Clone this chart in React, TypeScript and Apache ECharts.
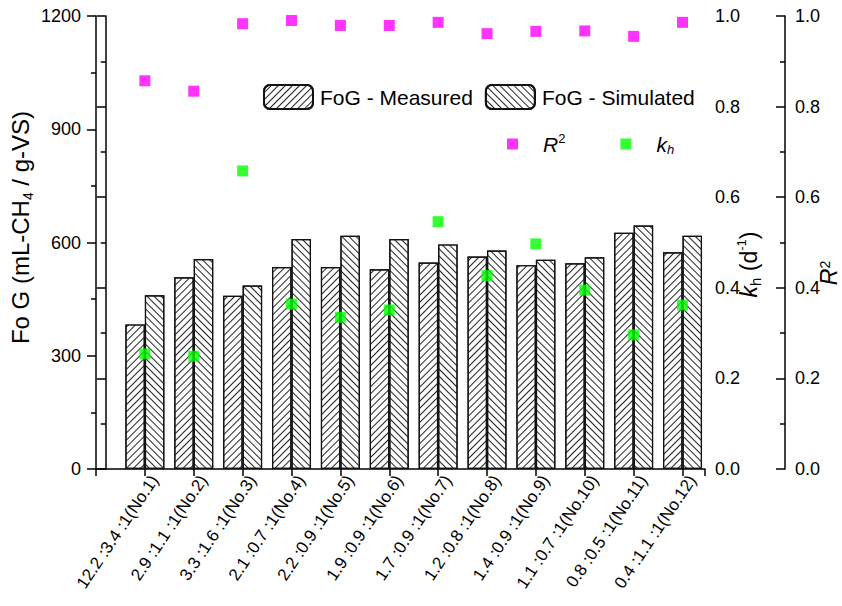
import React, { useEffect, useRef } from "react";
import * as echarts from "echarts";

const categories = [
  "12.2 :3.4 :1(No.1)",
  "2.9 :1.1 :1(No.2)",
  "3.3 :1.6 :1(No.3)",
  "2.1 :0.7 :1(No.4)",
  "2.2 :0.9 :1(No.5)",
  "1.9 :0.9 :1(No.6)",
  "1.7 :0.9 :1(No.7)",
  "1.2 :0.8 :1(No.8)",
  "1.4 :0.9 :1(No.9)",
  "1.1 :0.7 :1(No.10)",
  "0.8 :0.5 :1(No.11)",
  "0.4 :1.1 :1(No.12)",
];
const measured = [383, 508, 459, 535, 535, 529, 547, 563, 540, 545, 626, 574];
const simulated = [460, 556, 486, 609, 618, 609, 595, 579, 554, 561, 645, 618];
const kh = [0.254, 0.249, 0.658, 0.364, 0.335, 0.351, 0.546, 0.427, 0.497, 0.395, 0.296, 0.362];
const r2 = [0.857, 0.834, 0.983, 0.99, 0.979, 0.979, 0.986, 0.961, 0.966, 0.967, 0.955, 0.986];
const leftTicks = { min: 0, max: 1200, interval: 300 };
const rightTicks = { min: 0, max: 1, interval: 0.2 };

const FONT = "Liberation Sans, Arial, sans-serif";

export default function App() {
  const ref = useRef<HTMLDivElement>(null);
  useEffect(() => {
    if (!ref.current) return;
    const chart = echarts.init(ref.current, undefined, { renderer: "svg" });
    const pos = (i: number) => i + 1;
    const positions = categories.map((_, i) => pos(i));
    const X_MAX = 12.46;
    const LABEL_SHIFT = 0.2;
    const decalBase = {
      symbol: "rect",
      color: "#222",
      backgroundColor: "#fff",
      dashArrayX: [1, 0],
      dashArrayY: [1, 3.4],
      symbolSize: 1,
    };
    const tickStyle = { color: "#000", width: 1.5 };
    const axisCommon = {
      axisLine: { show: true, lineStyle: { color: "#000", width: 1.5 } },
      splitLine: { show: false },
      minorSplitLine: { show: false },
      nameMoveOverlap: false,
    };
    const option: any = {
      animation: false,
      backgroundColor: "#fff",
      textStyle: { fontFamily: FONT },
      grid: { left: 96, right: 137, top: 16, bottom: 137, outerBoundsMode: "none", containLabel: false },
      graphic: [
        {
          type: "text",
          x: 829,
          y: 273,
          rotation: Math.PI / 2,
          style: {
            text: "{i|R}{sup|2}",
            align: "center",
            verticalAlign: "middle",
            fill: "#000",
            rich: {
              i: { fontSize: 23, fontStyle: "italic", fontFamily: FONT, fill: "#000", lineHeight: 23 },
              sup: { fontSize: 14, fontFamily: FONT, fill: "#000", verticalAlign: "top", lineHeight: 23 },
            },
          },
        },
      ],
      legend: [
        {
          left: 258,
          top: 79,
          itemWidth: 49,
          itemHeight: 24,
          itemGap: 12,
          data: ["FoG - Measured", "FoG - Simulated"],
          textStyle: { fontSize: 21, color: "#000", fontFamily: FONT, padding: [0, 0, 0, 2] },
        },
        {
          left: 502,
          top: 127,
          itemWidth: 11,
          itemHeight: 11,
          itemGap: 55,
          data: ["R2", "kh"],
          formatter: (n: string) => (n === "R2" ? "{i|R}{sup|2}" : "{i|k}{sub|h}"),
          textStyle: {
            color: "#000",
            fontFamily: FONT,
            padding: [0, 0, 0, 20],
            rich: {
              i: { fontSize: 21, fontStyle: "italic", fontFamily: FONT, color: "#000", lineHeight: 24 },
              sup: { fontSize: 13, fontFamily: FONT, color: "#000", verticalAlign: "top", lineHeight: 24 },
              sub: { fontSize: 13, fontStyle: "italic", fontFamily: FONT, color: "#000", verticalAlign: "bottom", lineHeight: 24 },
            },
          },
        },
      ],
      xAxis: [
        {
          type: "value",
          min: 0,
          max: X_MAX,
          interval: 1,
          axisLine: { show: true, onZero: false, lineStyle: { color: "#000", width: 1.5 } },
          axisTick: { show: true, length: 7, lineStyle: tickStyle },
          splitLine: { show: false },
          axisLabel: { show: false },
        },
        {
          type: "value",
          position: "bottom",
          min: -LABEL_SHIFT,
          max: X_MAX - LABEL_SHIFT,
          axisLine: { show: false, onZero: false },
          axisTick: { show: false },
          splitLine: { show: false },
          axisLabel: {
            customValues: positions,
            rotate: 56,
            fontSize: 17,
            color: "#000",
            fontFamily: FONT,
            margin: 8,
            formatter: (v: number) => {
              const i = Math.round(v) - 1;
              return i >= 0 && i < categories.length ? categories[i] : "";
            },
          },
        },
      ],
      yAxis: [
        {
          type: "value",
          ...leftTicks,
          position: "left",
          ...axisCommon,
          axisTick: { show: true, length: 9, lineStyle: tickStyle },
          minorTick: { show: true, splitNumber: 2, length: 5, lineStyle: tickStyle },
          axisLabel: { fontSize: 18, color: "#000", fontFamily: FONT, margin: 15, formatter: (v: number) => String(v) },
          name: "Fo G (mL-CH{sub|4} / g-VS)",
          nameLocation: "middle",
          nameGap: 61,
          nameTextStyle: {
            fontSize: 24,
            color: "#000",
            fontFamily: FONT,
            padding: [0, 0, 0, 30],
            rich: {
              sub: { fontSize: 14, fontFamily: FONT, color: "#000", verticalAlign: "bottom", lineHeight: 30 },
            },
          },
        },
        {
          type: "value",
          ...rightTicks,
          position: "right",
          ...axisCommon,
          axisTick: { show: true, inside: true, length: 9, lineStyle: tickStyle },
          minorTick: { show: true, splitNumber: 2, length: 5, lineStyle: tickStyle },
          axisLabel: { fontSize: 18, color: "#000", fontFamily: FONT, margin: 10, formatter: (v: number) => v.toFixed(1) },
          name: "{i|k}{sub|h}{t| (d}{sup|-1}{t|)}",
          nameLocation: "middle",
          nameGap: 30,
          nameRotate: 90,
          nameTextStyle: {
            color: "#000",
            fontFamily: FONT,
            padding: [0, 44, 0, 0],
            rich: {
              i: { fontSize: 23, fontStyle: "italic", fontFamily: FONT, color: "#000", lineHeight: 28 },
              t: { fontSize: 23, fontFamily: FONT, color: "#000", lineHeight: 28 },
              sub: { fontSize: 15, fontFamily: FONT, color: "#000", verticalAlign: "bottom", lineHeight: 28 },
              sup: { fontSize: 13, fontFamily: FONT, color: "#000", verticalAlign: "top", lineHeight: 28 },
            },
          },
        },
        {
          type: "value",
          ...rightTicks,
          position: "right",
          offset: 80,
          ...axisCommon,
          axisTick: { show: true, inside: true, length: 9, lineStyle: tickStyle },
          minorTick: { show: true, splitNumber: 2, length: 5, lineStyle: tickStyle },
          axisLabel: { fontSize: 18, color: "#000", fontFamily: FONT, margin: 10, formatter: (v: number) => v.toFixed(1) },
        },
      ],
      series: [
        {
          name: "FoG - Measured",
          type: "bar",
          xAxisIndex: 0,
          yAxisIndex: 0,
          barWidth: 19.5,
          barGap: "0%",
          data: measured.map((v, i) => [pos(i), v]),
          itemStyle: {
            color: "#fff",
            borderColor: "#111",
            borderWidth: 1.2,
            decal: { ...decalBase, rotation: -Math.PI / 4 },
          },
        },
        {
          name: "FoG - Simulated",
          type: "bar",
          xAxisIndex: 0,
          yAxisIndex: 0,
          barWidth: 19.5,
          barGap: "0%",
          data: simulated.map((v, i) => [pos(i), v]),
          itemStyle: {
            color: "#fff",
            borderColor: "#111",
            borderWidth: 1.2,
            decal: { ...decalBase, rotation: Math.PI / 4 },
          },
        },
        {
          name: "R2",
          type: "scatter",
          xAxisIndex: 0,
          yAxisIndex: 2,
          symbol: "rect",
          symbolSize: 11,
          data: r2.map((v, i) => [pos(i), v]),
          itemStyle: { color: "#ff00ff" },
          z: 5,
        },
        {
          name: "kh",
          type: "scatter",
          xAxisIndex: 0,
          yAxisIndex: 1,
          symbol: "rect",
          symbolSize: 11,
          data: kh.map((v, i) => [pos(i), v]),
          itemStyle: { color: "#00ff00" },
          z: 5,
        },
      ],
    };
    chart.setOption(option);
    return () => chart.dispose();
  }, []);
  return <div ref={ref} style={{ width: 842, height: 606, position: "absolute", left: 0, top: 0 }} />;
}
